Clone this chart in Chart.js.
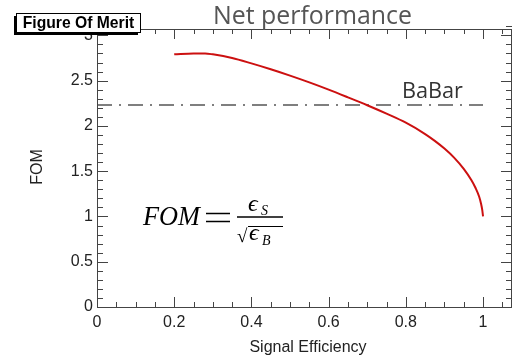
<!DOCTYPE html>
<html>
<head>
<meta charset="utf-8">
<script src="https://cdn.jsdelivr.net/npm/chart.js@4.4.1/dist/chart.umd.min.js"></script>
<style>
  html, body { margin: 0; padding: 0; background: #fff; }
  #wrap { width: 513px; height: 359px; }
</style>
</head>
<body>
<div id="wrap"><canvas id="chart" width="513" height="359"></canvas></div>
<script>
// FOM vs signal efficiency
const sigEff = [0.20, 0.25, 0.28, 0.30, 0.35, 0.40, 0.45, 0.50, 0.55, 0.60, 0.65, 0.70, 0.75, 0.80, 0.85, 0.875, 0.90, 0.925, 0.95, 0.97, 0.98, 0.99, 0.995, 0.998, 1.0];
const fom    = [2.79, 2.80, 2.80, 2.79, 2.75, 2.69, 2.625, 2.555, 2.48, 2.40, 2.315, 2.228, 2.135, 2.035, 1.91, 1.835, 1.75, 1.65, 1.525, 1.40, 1.32, 1.217, 1.137, 1.07, 1.0];

const babarLevel = 2.23;
const babarRange = [0, 1];

const xTicks = [0, 0.2, 0.4, 0.6, 0.8, 1];
const yTicks = [0, 0.5, 1, 1.5, 2, 2.5, 3];
const xMinorStep = 0.05;
const yMinorStep = 0.1;
const xMax = 1.075;
const yMax = 3.07;

const AXIS_COLOR = '#444';
const LABEL_FONT = '"Liberation Sans", Arial, sans-serif';
const SERIF = '"Liberation Serif", "Times New Roman", serif';
const TITLE_FONT = '"Open Sans", Lato, sans-serif';

function drawTicks(ctx, scale, area, step, max, majorEvery, horizontal) {
  const n = Math.round(max / step + 1e-6);
  for (let i = 0; i <= n; i++) {
    const v = i * step;
    const major = Math.abs(v / majorEvery - Math.round(v / majorEvery)) < 1e-6;
    const p = Math.round(scale.getPixelForValue(v)) + 0.5;
    ctx.beginPath();
    if (horizontal) {
      const len = major ? 10 : 5;
      ctx.moveTo(p, area.bottom); ctx.lineTo(p, area.bottom - len);
      ctx.moveTo(p, area.top); ctx.lineTo(p, area.top + len);
    } else {
      const len = major ? 11 : 6;
      ctx.moveTo(area.left, p); ctx.lineTo(area.left + len, p);
      ctx.moveTo(area.right, p); ctx.lineTo(area.right - len, p);
    }
    ctx.stroke();
  }
}

// pick a font size so the text spans the given width
function fitText(ctx, text, style, family, width) {
  ctx.font = style + ' 20px ' + family;
  const size = 20 * width / ctx.measureText(text).width;
  ctx.font = style + ' ' + size.toFixed(1) + 'px ' + family;
}

const rootStyle = {
  id: 'rootStyle',
  beforeDraw(chart) {
    const ctx = chart.ctx;
    ctx.save();
    ctx.fillStyle = '#fff';
    ctx.fillRect(0, 0, chart.width, chart.height);
    ctx.restore();
  },
  afterDraw(chart) {
    const ctx = chart.ctx;
    const a = chart.chartArea;
    const xs = chart.scales.x, ys = chart.scales.y;
    ctx.save();

    // frame + ticks
    ctx.strokeStyle = AXIS_COLOR;
    ctx.lineWidth = 1;
    ctx.strokeRect(Math.round(a.left) + 0.5, Math.round(a.top) + 0.5, Math.round(a.right - a.left) - 1, Math.round(a.bottom - a.top));
    drawTicks(ctx, xs, a, xMinorStep, xMax, 0.2, true);
    drawTicks(ctx, ys, a, yMinorStep, yMax, 0.5, false);

    // axis titles
    ctx.fillStyle = '#222';
    ctx.font = '16px ' + LABEL_FONT;
    ctx.textAlign = 'center';
    ctx.textBaseline = 'middle';
    ctx.fillText('Signal Efficiency', 308, 348);
    ctx.save();
    ctx.translate(38, 167);
    ctx.rotate(-Math.PI / 2);
    ctx.fillText('FOM', 0, 0);
    ctx.restore();

    // title
    ctx.fillStyle = '#555';
    ctx.textAlign = 'left';
    ctx.textBaseline = 'alphabetic';
    fitText(ctx, 'Net performance', 'normal', TITLE_FONT, 199);
    ctx.fillText('Net performance', 213, 24);

    // BaBar label
    ctx.fillStyle = '#333';
    fitText(ctx, 'BaBar', 'normal', TITLE_FONT, 61);
    ctx.fillText('BaBar', 402, 98);

    // "Figure Of Merit" pave with shadow
    ctx.fillStyle = '#000';
    ctx.fillRect(14, 16, 3, 19);
    ctx.fillRect(14, 32, 124, 3);
    ctx.fillStyle = '#fff';
    ctx.fillRect(16.5, 13.5, 124, 19);
    ctx.strokeStyle = '#000';
    ctx.strokeRect(16.5, 13.5, 124, 19);
    ctx.fillStyle = '#000';
    ctx.textAlign = 'center';
    ctx.textBaseline = 'middle';
    fitText(ctx, 'Figure Of Merit', 'bold', LABEL_FONT, 112);
    ctx.fillText('Figure Of Merit', 78.5, 23.5);

    // formula FOM = eps_S / sqrt(eps_B)
    ctx.textAlign = 'left';
    ctx.textBaseline = 'alphabetic';
    ctx.fillStyle = '#000';
    fitText(ctx, 'FOM', 'italic', SERIF, 57);
    ctx.fillText('FOM', 143, 225);
    ctx.strokeStyle = '#000';
    ctx.lineWidth = 1.4;
    ctx.beginPath();
    ctx.moveTo(206, 213.5); ctx.lineTo(230, 213.5);
    ctx.moveTo(206, 221.5); ctx.lineTo(230, 221.5);
    ctx.stroke();
    ctx.lineWidth = 1.3;
    ctx.beginPath();
    ctx.moveTo(237, 217); ctx.lineTo(283, 217);
    ctx.stroke();
    ctx.font = 'italic 24px ' + SERIF;
    ctx.fillText('\u03f5', 248, 211);
    ctx.fillText('\u03f5', 249, 240);
    ctx.font = 'italic 14px ' + SERIF;
    ctx.fillText('S', 261, 215);
    ctx.fillText('B', 262, 245);
    ctx.font = '19px ' + SERIF;
    ctx.fillText('\u221a', 237, 242);
    ctx.lineWidth = 1;
    ctx.beginPath();
    ctx.moveTo(248, 226.5); ctx.lineTo(283, 226.5);
    ctx.stroke();

    ctx.restore();
  }
};

const curve = sigEff.map((x, i) => ({ x: x, y: fom[i] }));
const babar = babarRange.map((x) => ({ x: x, y: babarLevel }));

new Chart(document.getElementById('chart'), {
  type: 'line',
  data: {
    datasets: [
      {
        data: curve,
        borderColor: '#cc1010',
        borderWidth: 2,
        pointRadius: 0,
        cubicInterpolationMode: 'monotone',
      },
      {
        data: babar,
        borderColor: '#555',
        borderWidth: 1.4,
        borderDash: [15, 7, 2, 7],
        pointRadius: 0,
      },
    ],
  },
  options: {
    responsive: false,
    animation: false,
    devicePixelRatio: 1,
    layout: { padding: { top: 29, right: 1, left: 0, bottom: 0 } },
    plugins: { legend: { display: false }, tooltip: { enabled: false } },
    scales: {
      x: {
        type: 'linear',
        min: 0,
        max: xMax,
        grid: { display: false, drawTicks: false },
        border: { display: false },
        afterBuildTicks: (s) => { s.ticks = xTicks.map((v) => ({ value: v })); },
        afterFit: (s) => { s.height = 52; },
        ticks: {
          color: '#222',
          padding: 6,
          maxRotation: 0,
          autoSkip: false,
          font: { family: LABEL_FONT, size: 16 },
          callback: (v) => String(v),
        },
      },
      y: {
        type: 'linear',
        min: 0,
        max: yMax,
        grid: { display: false, drawTicks: false },
        border: { display: false },
        afterBuildTicks: (s) => { s.ticks = yTicks.map((v) => ({ value: v })); },
        afterFit: (s) => { s.width = 97; },
        ticks: {
          color: '#222',
          padding: 4,
          autoSkip: false,
          font: { family: LABEL_FONT, size: 16 },
          callback: (v) => String(v),
        },
      },
    },
  },
  plugins: [rootStyle],
});
</script>
</body>
</html>
